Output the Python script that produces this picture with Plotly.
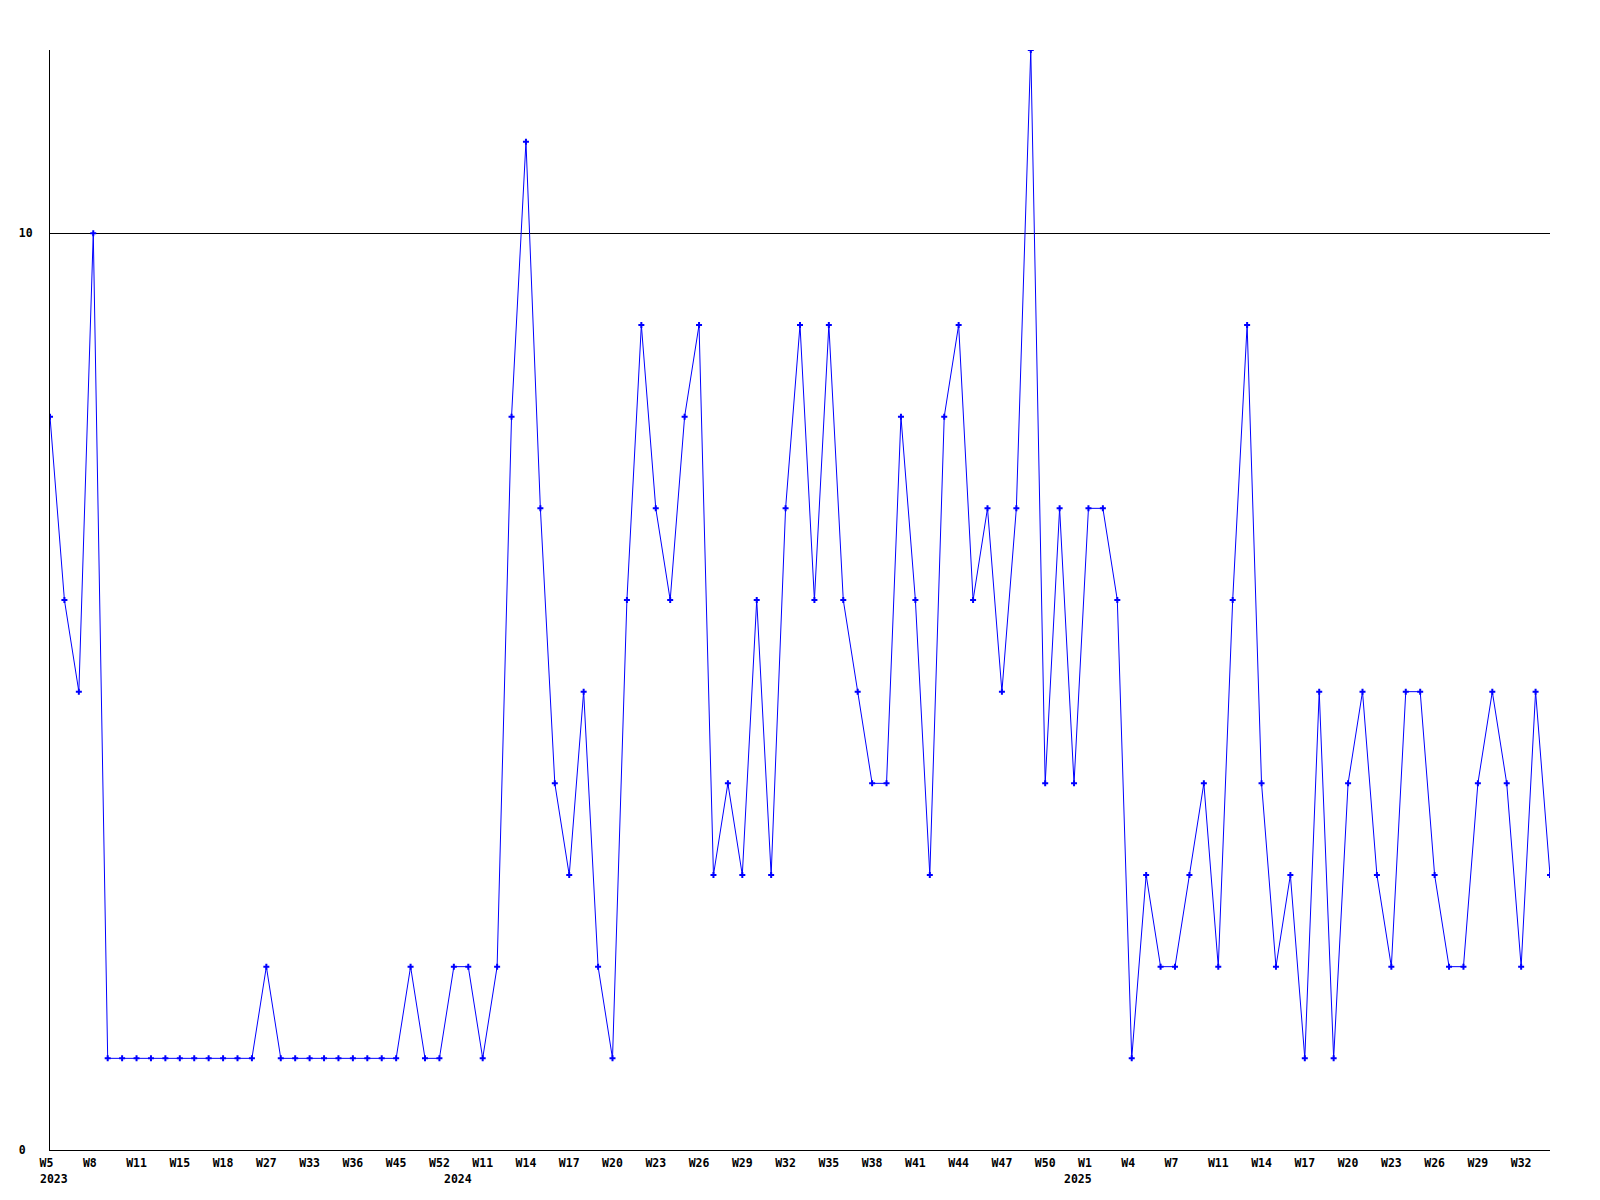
import plotly.graph_objects as go

# values per point (ordinal weekly samples)
values = [8, 6, 5, 10,
          1, 1, 1, 1, 1, 1, 1, 1, 1, 1, 1,
          2,
          1, 1, 1, 1, 1, 1, 1, 1, 1,
          2, 1, 1, 2, 2, 1, 2,
          8, 11, 7, 4, 3, 5, 2, 1, 6, 9, 7, 6, 8, 9, 3, 4, 3, 6, 3, 7, 9, 6, 9, 6,
          5, 4, 4, 8, 6, 3, 8, 9, 6, 7, 5, 7, 12, 4, 7, 4, 7, 7, 6, 1, 3, 2, 2,
          3, 4, 2, 6, 9, 4, 2, 3, 1, 5, 1, 4, 5, 3, 2, 5, 5, 3, 2, 2, 4, 5, 4,
          2, 5, 3]

# tick labels, shown on every third point
tick_labels = ["W5", "W8", "W11", "W15", "W18", "W27", "W33", "W36", "W45", "W52",
               "W11", "W14", "W17", "W20", "W23", "W26", "W29", "W32", "W35", "W38",
               "W41", "W44", "W47", "W50", "W1", "W4", "W7", "W11", "W14", "W17",
               "W20", "W23", "W26", "W29", "W32"]
tick_step = 3

# year labels and the point index where each year starts
year_labels = ["2023", "2024", "2025"]
year_index = [0, 28, 71]

y_ticks = [0, 10]

FONT = "DejaVu Sans Mono"
FSIZE = 11.5
BLUE = "#0000ff"

x = list(range(len(values)))
tickvals = [i * tick_step for i in range(len(tick_labels))]
ticktext = [t + "\u00a0" * (3 - len(t)) for t in tick_labels]

fig = go.Figure()
fig.add_trace(go.Scatter(
    x=x, y=values, mode="lines+markers",
    line=dict(color=BLUE, width=1),
    marker=dict(symbol="cross", size=5, color=BLUE, line=dict(width=0)),
    hoverinfo="skip", showlegend=False,
))

for lab, idx in zip(year_labels, year_index):
    fig.add_annotation(
        x=idx, y=0, xref="x", yref="y", text=lab, showarrow=False,
        xanchor="left", yanchor="top", xshift=-12, yshift=-20,
        font=dict(family=FONT, size=FSIZE, color="black", weight="bold"),
    )

fig.update_layout(
    width=1584, height=1184,
    margin=dict(l=42, r=42, t=42, b=42, pad=0),
    paper_bgcolor="white", plot_bgcolor="white",
    font=dict(family=FONT, size=FSIZE, color="black", weight="bold"),
    showlegend=False,
)
fig.update_xaxes(
    range=[0, len(values) - 1], tickvals=tickvals, ticktext=ticktext,
    showgrid=False, zeroline=False, showline=True, linecolor="black", linewidth=1,
    ticks="", tickangle=0, ticklabelstandoff=2,
    tickfont=dict(family=FONT, size=FSIZE, color="black", weight="bold"),
)
fig.update_yaxes(
    range=[0, 12], tickvals=y_ticks, ticktext=[str(v) + "\u00a0" * (2 - len(str(v))) for v in y_ticks],
    showgrid=True, gridcolor="black", gridwidth=1, zeroline=False,
    showline=True, linecolor="black", linewidth=1, ticks="", ticklabelstandoff=14,
    tickfont=dict(family=FONT, size=FSIZE, color="black", weight="bold"),
)

fig.write_html("out.html")
